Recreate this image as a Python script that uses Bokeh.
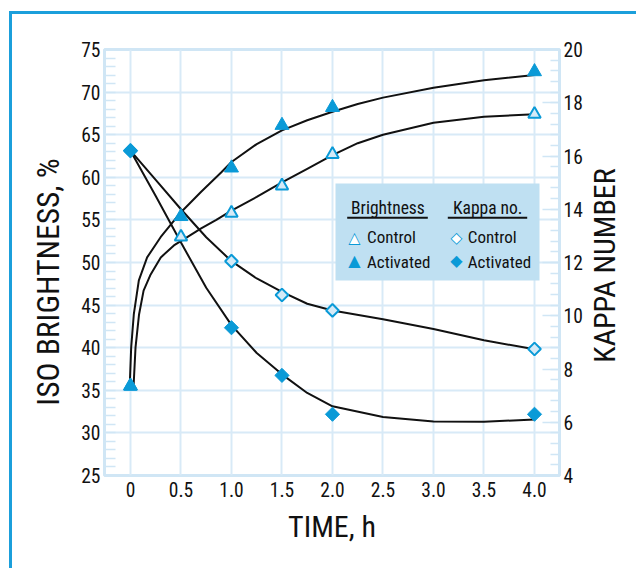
import numpy as np
from bokeh.plotting import figure
from bokeh.models import Range1d, LinearAxis, FixedTicker, Label, BoxAnnotation
from bokeh.embed import file_html
from bokeh.resources import INLINE

# ---------------- data ----------------
time_h = [0.0, 0.5, 1.0, 1.5, 2.0, 4.0]
brightness_control = [35.5, 53.0, 55.8, 59.0, 62.7, 67.4]
brightness_activated = [35.5, 55.4, 61.1, 66.1, 68.2, 72.4]

kappa_time_h = [0.0, 1.0, 1.5, 2.0, 4.0]
kappa_control = [16.2, 12.05, 10.78, 10.2, 8.75]
kappa_activated = [16.2, 9.55, 7.76, 6.3, 6.3]

# smooth fitted curves
fit_bc_time = [0.03, 0.05, 0.085, 0.13, 0.2, 0.3, 0.43, 0.55, 0.7, 0.85, 1.0,
               1.25, 1.5, 1.75, 2.0, 2.25, 2.5, 3.0, 3.5, 4.0]
fit_bc_value = [35.3, 40.0, 43.9, 46.7, 48.6, 50.6, 52.0, 52.9, 54.0, 55.0, 56.1,
                57.7, 59.4, 61.0, 62.6, 64.0, 65.0, 66.4, 67.1, 67.4]

fit_ba_time = [-0.008, 0.007, 0.033, 0.083, 0.165, 0.3, 0.5, 0.7, 0.9, 1.0,
               1.25, 1.5, 1.75, 2.0, 2.25, 2.5, 3.0, 3.5, 4.0]
fit_ba_value = [35.3, 40.0, 43.9, 47.9, 50.6, 53.0, 55.9, 58.3, 60.6, 61.8,
                63.9, 65.5, 66.7, 67.7, 68.6, 69.35, 70.5, 71.4, 72.0]

fit_kc_time = [0.0, 0.25, 0.5, 0.75, 1.0, 1.25, 1.5, 1.75, 2.0, 2.5, 3.0, 3.5, 4.0]
fit_kc_value = [16.2, 15.1, 14.0, 12.95, 12.05, 11.4, 10.9, 10.45, 10.2, 9.87, 9.5, 9.08, 8.74]

fit_ka_time = [0.0, 0.25, 0.5, 0.75, 1.0, 1.25, 1.5, 1.75, 2.0, 2.5, 3.0, 3.5, 4.0]
fit_ka_value = [16.2, 14.5, 12.75, 11.05, 9.65, 8.6, 7.8, 7.1, 6.6, 6.2, 6.03, 6.02, 6.1]

x_ticks = [0.0, 0.5, 1.0, 1.5, 2.0, 2.5, 3.0, 3.5, 4.0]
x_tick_labels = ["0", "0.5", "1.0", "1.5", "2.0", "2.5", "3.0", "3.5", "4.0"]
brightness_ticks = [25, 30, 35, 40, 45, 50, 55, 60, 65, 70, 75]
brightness_minor = list(range(25, 76))
kappa_ticks = [4, 6, 8, 10, 12, 14, 16, 18, 20]
kappa_minor = [round(4 + 0.4 * i, 2) for i in range(41)]

x_title = "TIME, h"
left_title = "ISO BRIGHTNESS, %"
right_title = "KAPPA NUMBER"
legend_head_b = "Brightness"
legend_head_k = "Kappa no."
legend_control = "Control"
legend_activated = "Activated"

# ---------------- styles ----------------
FONT = ("'Roboto Condensed', 'Noto Sans Condensed', 'Liberation Sans Narrow', "
        "'DejaVu Sans Condensed', Roboto, sans-serif")
SYM_FONT = "'DejaVu Sans', sans-serif"
BLUE = "#0a9ad7"
OPEN_FILL = "#d5eaf7"
GRID = "#d8eaf7"
FRAME = "#d0e6f5"
LEG_BG = "#bfe0f2"
BORDER = "#1b9fdb"
INK = "#111111"

p = figure(width=627, height=557, output_backend="svg", toolbar_location=None,
           x_range=Range1d(-0.257, 4.2475), y_range=Range1d(25, 75),
           min_border_left=92, min_border_right=80, min_border_top=35,
           min_border_bottom=96)
p.styles = {"margin-left": "9px", "margin-top": "11px",
            "border-left": "3px solid " + BORDER, "border-top": "3px solid " + BORDER}
p.extra_y_ranges = {"kappa": Range1d(4, 20)}
p.outline_line_color = FRAME
p.outline_line_width = 3
p.background_fill_color = "white"
p.border_fill_color = "white"

# x axis
xa = p.xaxis[0]
xa.ticker = FixedTicker(ticks=x_ticks, minor_ticks=[])
xa.major_label_overrides = {t: s for t, s in zip(x_ticks, x_tick_labels)}
xa.axis_line_color = None
xa.major_tick_in = 0
xa.major_tick_out = 0
xa.minor_tick_line_color = None
xa.major_label_text_font = FONT
xa.major_label_text_font_size = "19.5px"
xa.major_label_text_color = INK
xa.major_label_standoff = 6
xa.axis_label = x_title
xa.axis_label_text_font = FONT
xa.axis_label_text_font_size = "30px"
xa.axis_label_text_font_style = "normal"
xa.axis_label_text_color = INK
xa.axis_label_standoff = 9

# left axis
ya = p.yaxis[0]
ya.ticker = FixedTicker(ticks=brightness_ticks, minor_ticks=brightness_minor)
ya.axis_line_color = None
ya.major_tick_in = 0
ya.major_tick_out = 0
ya.minor_tick_in = 11
ya.minor_tick_out = 0
ya.minor_tick_line_color = FRAME
ya.minor_tick_line_width = 1.5
ya.major_label_text_font = FONT
ya.major_label_text_font_size = "19.5px"
ya.major_label_text_color = INK
ya.major_label_standoff = 4

# right axis
ra = LinearAxis(y_range_name="kappa",
                ticker=FixedTicker(ticks=kappa_ticks, minor_ticks=kappa_minor))
ra.axis_line_color = None
ra.major_tick_in = 17
ra.major_tick_out = 0
ra.major_tick_line_color = FRAME
ra.major_tick_line_width = 1.5
ra.minor_tick_in = 9
ra.minor_tick_out = 0
ra.minor_tick_line_color = FRAME
ra.minor_tick_line_width = 1.5
ra.major_label_text_font = FONT
ra.major_label_text_font_size = "19.5px"
ra.major_label_text_color = INK
ra.major_label_standoff = 4
p.add_layout(ra, "right")

# grids
p.xgrid.ticker = FixedTicker(ticks=x_ticks, minor_ticks=[])
p.ygrid.ticker = FixedTicker(ticks=brightness_ticks, minor_ticks=[])
for g in (p.xgrid[0], p.ygrid[0]):
    g.grid_line_color = GRID
    g.grid_line_width = 2

# fitted curves
p.line(fit_bc_time, fit_bc_value, line_color=INK, line_width=2)
p.line(fit_ba_time, fit_ba_value, line_color=INK, line_width=2)
p.line(fit_kc_time, fit_kc_value, line_color=INK, line_width=2, y_range_name="kappa")
p.line(fit_ka_time, fit_ka_value, line_color=INK, line_width=2, y_range_name="kappa")

# markers
p.scatter(time_h, brightness_control, marker="triangle", size=12.5,
          fill_color=OPEN_FILL, line_color=BLUE, line_width=2)
p.scatter(time_h, brightness_activated, marker="triangle", size=14,
          fill_color=BLUE, line_color=BLUE, line_width=1)
p.scatter(kappa_time_h, kappa_control, marker="square", angle=np.pi / 4, size=9,
          fill_color=OPEN_FILL, line_color=BLUE, line_width=2, y_range_name="kappa")
p.scatter(kappa_time_h, kappa_activated, marker="square", angle=np.pi / 4, size=10,
          fill_color=BLUE, line_color=BLUE, line_width=1, y_range_name="kappa")

# vertical axis titles, reading bottom to top (side-panel-relative screen units)
p.add_layout(Label(x=7, y=193.5, x_units="screen", y_units="screen", text=left_title,
                   angle=np.pi / 2, text_align="center", text_baseline="middle",
                   text_font=FONT, text_font_size="31.5px", text_color=INK), "left")
p.add_layout(Label(x=19, y=210, x_units="screen", y_units="screen", text=right_title,
                   angle=np.pi / 2, text_align="center", text_baseline="middle",
                   text_font=FONT, text_font_size="30px", text_color=INK), "right")

# legend panel (frame-relative screen units, y measured upward from frame bottom)
p.add_layout(BoxAnnotation(left=231, right=435, bottom=195, top=292,
                           left_units="screen", right_units="screen",
                           bottom_units="screen", top_units="screen",
                           fill_color=LEG_BG, fill_alpha=1, line_color=None))
for (x0, x1) in ((242.7, 323.3), (343.3, 422.7)):
    p.add_layout(BoxAnnotation(left=x0, right=x1, bottom=256.7, top=258.7,
                               left_units="screen", right_units="screen",
                               bottom_units="screen", top_units="screen",
                               fill_color=INK, fill_alpha=1, line_color=None))

def lab(x, y, text, size="17px", font=FONT, color=INK, align="left"):
    p.add_layout(Label(x=x, y=y, x_units="screen", y_units="screen", text=text,
                       text_align=align, text_baseline="middle",
                       text_font=font, text_font_size=size, text_color=color))

lab(246.5, 267.5, legend_head_b, size="17.5px")
lab(348.5, 267.5, legend_head_k, size="17.5px")
lab(262.5, 238.2, legend_control)
lab(262.5, 214, legend_activated)
lab(363.3, 238.2, legend_control)
lab(363.3, 214, legend_activated)
# legend keys as glyph characters
lab(250, 238.5, "\u25b2", size="16px", font=SYM_FONT, color="white", align="center")
lab(250, 238.5, "\u25b3", size="16px", font=SYM_FONT, color=BLUE, align="center")
lab(250, 215.5, "\u25b2", size="16px", font=SYM_FONT, color=BLUE, align="center")
lab(352, 238.5, "\u25c6", size="16px", font=SYM_FONT, color="white", align="center")
lab(352, 238.5, "\u25c7", size="16px", font=SYM_FONT, color=BLUE, align="center")
lab(352, 215.5, "\u25c6", size="16px", font=SYM_FONT, color=BLUE, align="center")

open("out.html", "w").write(file_html(p, INLINE))
